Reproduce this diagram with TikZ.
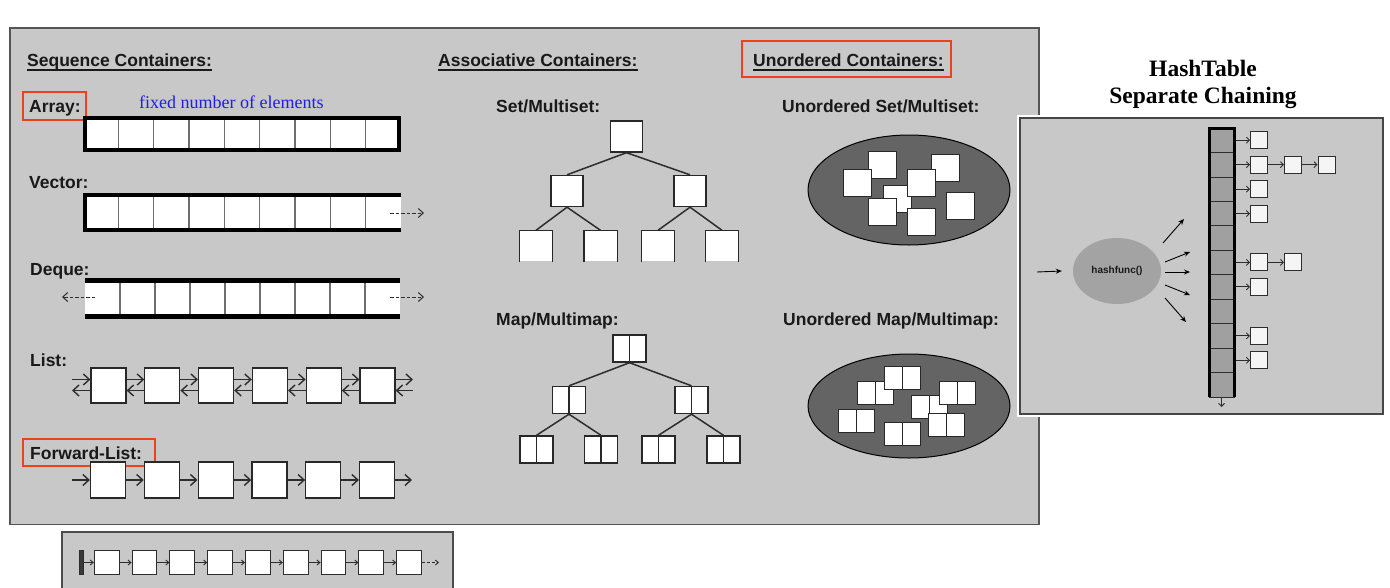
\documentclass[tikz,border=0pt]{standalone}
\usepackage{fontspec}
\setmainfont{Liberation Sans}
\newfontfamily\timesf{Liberation Serif}
\usetikzlibrary{arrows.meta,shapes.geometric}
\definecolor{bgc}{RGB}{200,200,200}
\definecolor{ellc}{RGB}{100,100,100}
\definecolor{hfc}{RGB}{163,163,163}
\definecolor{cellc}{RGB}{160,160,160}
\definecolor{redc}{RGB}{235,65,30}
\definecolor{framec}{RGB}{85,85,85}
\definecolor{txtc}{RGB}{25,25,25}
\definecolor{boxc}{RGB}{40,40,40}
\definecolor{darkc}{RGB}{45,45,45}
\definecolor{bluec}{RGB}{30,30,230}
\definecolor{sepc}{RGB}{110,110,110}
\begin{document}
\begin{tikzpicture}[x=1pt,y=-1pt,
  lab/.style={font=\fontsize{17.5}{21}\selectfont\bfseries, text=txtc, inner sep=0pt, anchor=base west},
  ul/.style={line width=1.6pt, draw=txtc},
  redbox/.style={draw=redc, line width=2.5pt},
  cellsep/.style={draw=sepc, line width=1.2pt},
  darr/.style={dashed, dash pattern=on 3.5pt off 2pt, draw=darkc, line width=1pt, -{Straight Barb[length=5pt,width=9pt]}},
  lbox/.style={draw=boxc, fill=white, line width=1.2pt, minimum width=35pt, minimum height=35pt, inner sep=0pt},
  larr/.style={draw=darkc, line width=1.4pt, -{Straight Barb[length=6pt,width=11pt]}},
  tbox/.style={draw=boxc, fill=white, line width=1.4pt, minimum width=32pt, minimum height=31pt, inner sep=0pt},
  tedge/.style={draw=darkc, line width=1.5pt},
  dbox/.style={tbox, minimum width=33pt, minimum height=27pt,
    path picture={\draw[boxc, line width=1.4pt] (path picture bounding box.north) -- (path picture bounding box.south);}},
  usq/.style={draw=boxc, fill=white, line width=1pt, minimum width=28pt, minimum height=27pt, inner sep=0pt},
  udb/.style={usq, minimum width=36pt, minimum height=23pt,
    path picture={\draw[boxc, line width=1pt] (path picture bounding box.north) -- (path picture bounding box.south);}},
  hcell/.style={draw=darkc, fill=cellc, line width=0.8pt, minimum width=25pt, minimum height=24.45pt, inner sep=0pt},
  hbox/.style={draw=darkc, fill=gray!8, line width=1pt, minimum width=17pt, minimum height=17pt, inner sep=0pt},
  harr/.style={draw=gray!35!black, line width=0.9pt, -{Straight Barb[length=3pt,width=6pt]}},
  farr/.style={draw=black, line width=0.9pt, -{Stealth[length=6pt,width=5pt]}},
  barr/.style={draw=gray!35!black, line width=0.9pt, -{Straight Barb[length=3pt,width=5pt]}},
  bbox/.style={draw=darkc, fill=white, line width=1pt, minimum width=24.7pt, minimum height=23.5pt, inner sep=0pt}
]
\useasboundingbox (0,0) rectangle (1390,587);
\fill[white] (0,0) rectangle (1390,587);

% ===== main frame and bottom strip =====
\draw[draw=framec, line width=1.6pt, fill=bgc] (10,28) rectangle (1039,524.5);
\draw[draw=gray!60!black, line width=1.4pt, fill=bgc] (62,532) rectangle (453,595);

% ===== headers =====
\node[lab] (hseq) at (27,66) {Sequence Containers:};
\draw[ul] ([yshift=-4pt]hseq.base west) -- ([yshift=-4pt]hseq.base east);
\node[lab] (hass) at (438,66) {Associative Containers:};
\draw[ul] ([yshift=-4pt]hass.base west) -- ([yshift=-4pt]hass.base east);
\node[lab] (huno) at (753,66) {Unordered Containers:};
\draw[ul] ([yshift=-4pt]huno.base west) -- ([yshift=-4pt]huno.base east);
\draw[redbox] (742,41) rectangle (951,77);

% ===== Array =====
\node[lab] (larray) at (29,112) {Array:};
\draw[redbox] (23,92) rectangle (86,120);
\node[font=\timesf\fontsize{18}{21}\selectfont, text=bluec, inner sep=0pt, anchor=base west] (fixed) at (139,108) {fixed number of elements};
\fill[white] (85,118) rectangle (399,150);
\foreach \k in {1,...,8} \draw[cellsep] ({83+35.33*\k},118) -- ({83+35.33*\k},150);
\draw[line width=4pt] (85,118) rectangle (399,150);

% ===== Vector =====
\node[lab] (lvec) at (29,188) {Vector:};
\fill[white] (85,195) rectangle (401,230);
\foreach \k in {1,...,8} \draw[cellsep] ({83+35.33*\k},195) -- ({83+35.33*\k},230);
\draw[line width=4pt] (401,195) -- (85,195) -- (85,230) -- (401,230);
\coordinate (vs) at (390,213);
\coordinate (ve) at (424,213);
\draw[darr] (vs) -- (ve);

% ===== Deque =====
\node[lab] (ldeq) at (30,275) {Deque:};
\fill[white] (85,281) rectangle (400,314);
\foreach \k in {1,...,8} \draw[cellsep] ({85+35*\k},281) -- ({85+35*\k},314);
\draw[line width=5pt] (85,280) -- (400,280);
\draw[line width=5pt] (85,316) -- (400,316);
\coordinate (dls) at (95,297);
\coordinate (dle) at (62,297);
\coordinate (drs) at (390,297);
\coordinate (dre) at (424,297);
\draw[darr] (dls) -- (dle);
\draw[darr] (drs) -- (dre);

% ===== List =====
\node[lab] (llist) at (30,366) {List:};
\foreach \i in {1,...,6} \node[lbox] (L\i) at ({108.5+53.8*(\i-1)},385.5) {};
\coordinate (L0) at (72,385.5);
\coordinate (L7) at (413,385.5);
\foreach \i/\j in {1/2,2/3,3/4,4/5,5/6} {
  \draw[larr] ([yshift=6pt]L\i.east) -- ([yshift=6pt]L\j.west);
  \draw[larr] ([yshift=-5pt]L\j.west) -- ([yshift=-5pt]L\i.east);
}
\draw[larr] ([yshift=6pt]L0) -- ([yshift=6pt]L1.west);
\draw[larr] ([yshift=-5pt]L1.west) -- ([yshift=-5pt]L0);
\draw[larr] ([yshift=6pt]L6.east) -- ([yshift=6pt]L7);
\draw[larr] ([yshift=-5pt]L7) -- ([yshift=-5pt]L6.east);

% ===== Forward-List =====
\node[lab] (lfwd) at (30,459) {Forward-List:};
\draw[redbox] (23,439) rectangle (155,466);
\foreach \i in {1,...,6} \node[lbox, minimum height=36pt] (F\i) at ({108+53.8*(\i-1)},480) {};
\coordinate (F0) at (72,480);
\coordinate (F7) at (412,480);
\draw[larr] (F0) -- (F1.west);
\foreach \i/\j in {1/2,2/3,3/4,4/5,5/6} \draw[larr] (F\i.east) -- (F\j.west);
\draw[larr] (F6.east) -- (F7);

% ===== bottom strip list =====
\node[draw=darkc, fill=gray!45!black, line width=0.6pt, minimum width=3.5pt, minimum height=24pt, inner sep=0pt] (B0) at (81.2,562.5) {};
\foreach \i in {1,...,9} \node[bbox] (B\i) at ({106.7+37.8*(\i-1)},562.5) {};
\coordinate (Bend) at (439,562.5);
\draw[barr] (B0.east) -- (B1.west);
\foreach \i/\j in {1/2,2/3,3/4,4/5,5/6,6/7,7/8,8/9} \draw[barr] (B\i.east) -- (B\j.west);
\draw[barr, densely dashed] (B9.east) -- (Bend);

% ===== Set/Multiset tree =====
\node[lab] (lset) at (496,112) {Set/Multiset:};
\node[tbox] (s1) at (626.5,136.5) {};
\node[tbox] (s2) at (567,191) {};
\node[tbox] (s3) at (690,191) {};
\foreach \n/\x in {s4/536,s5/600.5,s6/658,s7/722} {
  \node[tbox, draw=none, minimum height=30pt] (\n) at (\x,246) {};
  \draw[boxc, line width=1.4pt] (\n.south west) -- (\n.north west) -- (\n.north east) -- (\n.south east);
}
\draw[tedge] (s1.south) -- (s2.north);
\draw[tedge] (s1.south) -- (s3.north);
\draw[tedge] (s2.south) -- (s4.north);
\draw[tedge] (s2.south) -- (s5.north);
\draw[tedge] (s3.south) -- (s6.north);
\draw[tedge] (s3.south) -- (s7.north);

% ===== Map/Multimap tree =====
\node[lab] (lmap) at (496,325) {Map/Multimap:};
\node[dbox] (m1) at (629.5,348.5) {};
\node[dbox] (m2) at (569,400) {};
\node[dbox] (m3) at (691.5,400) {};
\node[dbox] (m4) at (536.5,449.5) {};
\node[dbox] (m5) at (601,449.5) {};
\node[dbox] (m6) at (658.5,449.5) {};
\node[dbox] (m7) at (723.5,449.5) {};
\draw[tedge] (m1.south) -- (m2.north);
\draw[tedge] (m1.south) -- (m3.north);
\draw[tedge] (m2.south) -- (m4.north);
\draw[tedge] (m2.south) -- (m5.north);
\draw[tedge] (m3.south) -- (m6.north);
\draw[tedge] (m3.south) -- (m7.north);

% ===== Unordered Set/Multiset =====
\node[lab] (luset) at (782,112) {Unordered Set/Multiset:};
\node[ellipse, draw=black, line width=1pt, fill=ellc, minimum width=202pt, minimum height=110pt, inner sep=0pt] (ue1) at (909,190) {};
\node[usq] (qa) at (882,164.5) {};
\node[usq] (qc) at (945.5,167.5) {};
\node[usq] (qe) at (897.5,199) {};
\node[usq] (qb) at (857.5,183) {};
\node[usq] (qd) at (921.5,183) {};
\node[usq] (qf) at (882.5,212) {};
\node[usq] (qg) at (960.5,206) {};
\node[usq] (qh) at (921.5,222) {};

% ===== Unordered Map/Multimap =====
\node[lab] (lumap) at (783,325) {Unordered Map/Multimap:};
\node[ellipse, draw=black, line width=1pt, fill=ellc, minimum width=202pt, minimum height=104pt, inner sep=0pt] (ue2) at (909,406) {};
\node[udb] (pb) at (875,392.5) {};
\node[udb] (pa) at (902,378) {};
\node[udb] (pd) at (929.5,406.5) {};
\node[udb] (pc) at (957.5,392.5) {};
\node[udb] (pe) at (946,424.5) {};
\node[udb] (pf) at (856.5,421) {};
\node[udb] (pg) at (902,434) {};

% ===== HashTable panel =====
\node[font=\timesf\fontsize{23.5}{27}\selectfont\bfseries, inner sep=0pt, anchor=base] (t1) at (1203,76) {HashTable};
\node[font=\timesf\fontsize{23.5}{27}\selectfont\bfseries, inner sep=0pt, anchor=base] (t2) at (1203,103) {Separate Chaining};
\draw[white, line width=6pt] (1020,118) rectangle (1383,414);
\draw[draw=gray!55!black, line width=1.2pt, fill=bgc] (1020,118) rectangle (1383,414);

\coordinate (hin) at (1037,272);
\node[ellipse, fill=hfc, minimum width=88pt, minimum height=66pt, inner sep=0pt, font=\fontsize{10}{12}\selectfont\bfseries, text=txtc] (hf) at (1117,271) {hashfunc()};
\draw[farr] (hin) -- ([xshift=-11pt]hf.west);
\coordinate (f1s) at (1163,243); \coordinate (f1e) at (1184,219);
\coordinate (f2s) at (1165,262); \coordinate (f2e) at (1190,252);
\coordinate (f3s) at (1165,272); \coordinate (f3e) at (1190,272);
\coordinate (f4s) at (1165,285); \coordinate (f4e) at (1190,295);
\coordinate (f5s) at (1165,298); \coordinate (f5e) at (1186,322);
\foreach \k in {1,...,5} \draw[farr] (f\k s) -- (f\k e);

\foreach \i in {0,...,10} \node[hcell] (c\i) at (1221.5,{128+24.45*(\i+0.5)}) {};
\draw[line width=3pt] (1209,397) -- (1209,128) -- (1234,128) -- (1234,397);
\coordinate (cdown) at (1221.5,407);
\draw[harr] (c10.south) -- (cdown);

\foreach \i in {0,1,2,3,5,6,8,9} {
  \node[hbox] (hb\i) at (1259,{128+24.45*(\i+0.5)}) {};
  \draw[harr] ([xshift=1.5pt]c\i.east) -- (hb\i.west);
}
\node[hbox] (hb1b) at (1293,{128+24.45*1.5}) {};
\node[hbox] (hb1c) at (1326.5,{128+24.45*1.5}) {};
\node[hbox] (hb5b) at (1293,{128+24.45*5.5}) {};
\draw[harr] (hb1.east) -- (hb1b.west);
\draw[harr] (hb1b.east) -- (hb1c.west);
\draw[harr] (hb5.east) -- (hb5b.west);
\end{tikzpicture}
\end{document}
